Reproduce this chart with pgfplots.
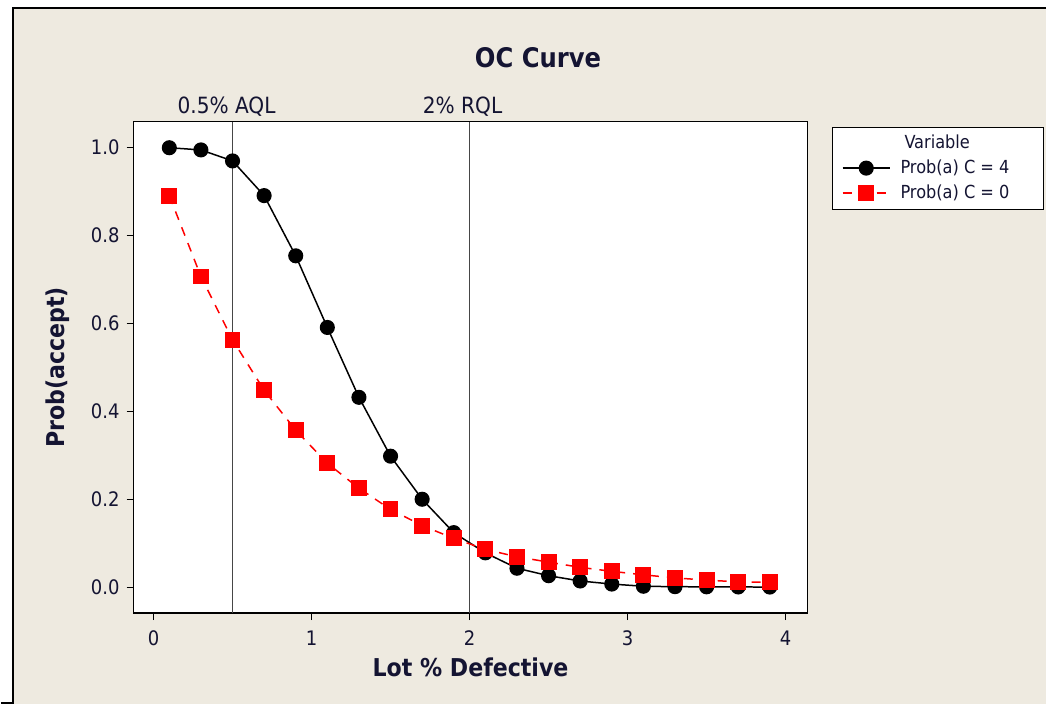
\documentclass[border=0pt]{standalone}
\usepackage{pgfplots}
\pgfplotsset{compat=1.18}
\usepackage{fontspec}
\setmainfont{DejaVu Sans Condensed}
\definecolor{bg}{RGB}{238,234,224}
\definecolor{txt}{RGB}{20,20,50}
\definecolor{vline}{RGB}{70,70,70}
\begin{document}
\begin{tikzpicture}
\fill[white] (0,0) rectangle (523.5pt,352.5pt);
\fill[bg] (6pt,0) rectangle (523.5pt,348.5pt);
\draw[line width=0.8pt] (6pt,0) -- (6pt,348.5pt) -- (523.5pt,348.5pt);
\draw[line width=0.8pt] (0,0.6pt) -- (6pt,0.6pt);
\node[font=\bfseries\fontsize{13.5}{15}\selectfont, text=txt] at (269pt,323.5pt) {OC Curve};
\begin{axis}[
  at={(66.5pt,45.5pt)}, anchor=south west,
  width=337.5pt, height=246pt, scale only axis,
  xmin=-0.126, xmax=4.139, ymin=-0.059, ymax=1.059,
  axis background/.style={fill=white},
  xtick={0,1,2,3,4}, ytick={0,0.2,0.4,0.6,0.8,1.0},
  yticklabel style={/pgf/number format/.cd, fixed, fixed zerofill, precision=1},
  xticklabel style={yshift=-2pt},
  /pgf/number format/assume math mode=true,
  tick align=outside, tick pos=left, major tick length=3.5pt,
  tick style={black, line width=0.6pt},
  ticklabel style={font=\fontsize{10}{12}\selectfont, text=txt},
  axis line style={black, line width=0.6pt},
  xlabel={\textbf{Lot \% Defective}}, ylabel={\textbf{Prob(accept)}},
  label style={font=\fontsize{12.3}{14}\selectfont, text=txt},
  xlabel style={at={(axis description cs:0.5,-0.1098)}, anchor=center},
  ylabel style={at={(axis description cs:-0.1126,0.5)}, anchor=center},
  clip mode=individual,
  legend cell align=left,
  legend style={at={(1,1)}, anchor=north west, xshift=12pt, yshift=-2.5pt,
    draw=black, fill=white, font=\fontsize{9}{10.5}\selectfont, text=txt,
    inner xsep=5pt, inner ysep=2pt, row sep=0pt},
  legend image code/.code={\draw[mark repeat=2,mark phase=2] plot coordinates {(0cm,0cm) (0.415cm,0cm) (0.83cm,0cm)};},
]
\addlegendimage{empty legend}
\addlegendentry{\hspace{5pt}Variable}
\addplot[vline, line width=0.8pt, forget plot] coordinates {(0.5,-0.059) (0.5,1.059)};
\addplot[vline, line width=0.8pt, forget plot] coordinates {(2,-0.059) (2,1.059)};
\addplot[black, line width=0.75pt, mark=*, mark size=3.4pt, mark options={solid, fill=black}] coordinates {
(0.1,1.000) (0.3,0.995) (0.5,0.970) (0.7,0.891) (0.9,0.754) (1.1,0.591) (1.3,0.432)
(1.5,0.298) (1.7,0.200) (1.9,0.124) (2.1,0.078) (2.3,0.043) (2.5,0.026) (2.7,0.014)
(2.9,0.007) (3.1,0.002) (3.3,0.001) (3.5,0.0007) (3.7,0.0004) (3.9,0.0002)};
\addlegendentry{\hspace{3pt}Prob(a) C = 4\hspace{10pt}\null}
\addplot[red, line width=0.75pt, dash pattern=on 4.5pt off 4pt, mark=square*, mark size=3.6pt, mark options={solid, fill=red}] coordinates {
(0.1,0.891) (0.3,0.707) (0.5,0.563) (0.7,0.448) (0.9,0.357) (1.1,0.282) (1.3,0.225)
(1.5,0.177) (1.7,0.140) (1.9,0.111) (2.1,0.086) (2.3,0.069) (2.5,0.057) (2.7,0.045)
(2.9,0.036) (3.1,0.028) (3.3,0.021) (3.5,0.016) (3.7,0.012) (3.9,0.011)};
\addlegendentry{\hspace{3pt}Prob(a) C = 0\hspace{10pt}\null}
\node[font=\fontsize{11.2}{13}\selectfont, text=txt] at (axis cs:0.5,1.059) [yshift=7.5pt, xshift=-3pt] {0.5\% AQL};
\node[font=\fontsize{11.2}{13}\selectfont, text=txt] at (axis cs:2,1.059) [yshift=7.5pt, xshift=-3.5pt] {2\% RQL};
\end{axis}
\end{tikzpicture}
\end{document}
